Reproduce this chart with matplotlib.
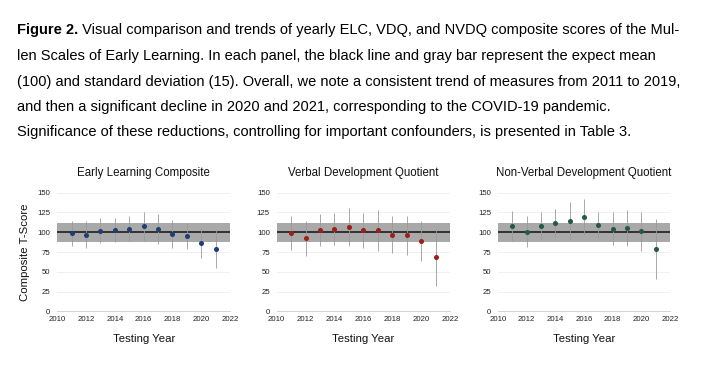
import numpy as np
import matplotlib.pyplot as plt
from matplotlib.text import Annotation

plt.rcParams['font.family'] = ['Liberation Sans', 'DejaVu Sans']

years = [2011, 2012, 2013, 2014, 2015, 2016, 2017, 2018, 2019, 2020, 2021]

# yearly means and standard deviations
elc_mean = [98.6, 97.0, 102.0, 103.0, 104.5, 107.5, 104.5, 97.8, 95.7, 86.4, 78.8]
elc_sd = [15.5, 17.0, 16.0, 15.0, 16.0, 18.0, 19.0, 18.0, 16.5, 18.5, 24.0]

vdq_mean = [99.0, 92.3, 102.8, 104.0, 106.6, 102.4, 102.4, 97.0, 96.0, 89.3, 68.3]
vdq_sd = [21.0, 22.5, 20.5, 20.0, 24.0, 22.5, 26.0, 23.0, 24.5, 25.5, 36.0]

nvdq_mean = [107.9, 100.7, 108.3, 111.7, 114.6, 119.3, 109.6, 104.5, 105.4, 101.0, 79.2]
nvdq_sd = [18.5, 20.0, 17.0, 17.5, 23.5, 22.5, 16.5, 21.0, 23.0, 24.5, 38.0]

titles = ['Early Learning Composite', 'Verbal Development Quotient',
          'Non-Verbal Development Quotient']
colors = ['#1d3f73', '#9e1f1a', '#245a45']
expected_mean = 100
band_lo, band_hi = 88, 112

caption = [
    'Visual comparison and trends of yearly ELC, VDQ, and NVDQ composite scores of the Mul-',
    'len Scales of Early Learning. In each panel, the black line and gray bar represent the expect mean',
    '(100) and standard deviation (15). Overall, we note a consistent trend of measures from 2011 to 2019,',
    'and then a significant decline in 2020 and 2021, corresponding to the COVID-19 pandemic.',
    'Significance of these reductions, controlling for important confounders, is presented in Table 3.',
]

W, H = 706, 386
fig = plt.figure(figsize=(W / 100, H / 100), dpi=100)

# caption
fs = 10.5
x0 = 17 / W
base = [34.3, 60.0, 85.6, 111.0, 136.0]
bold = fig.text(x0, 1 - base[0] / H, 'Figure 2.', fontsize=fs, fontweight='bold',
                va='baseline', ha='left')
ann = Annotation(' ' + caption[0], xy=(1, 0), xycoords=bold, fontsize=fs,
                 va='bottom', ha='left', annotation_clip=False)
fig.add_artist(ann)
for i in range(1, 5):
    fig.text(x0, 1 - base[i] / H, caption[i], fontsize=fs, va='baseline', ha='left')

lefts = [57.3, 276.7, 498]
rights = [230, 450, 670]
y_bottom, y_top = 311.3, 192.7
data = [(elc_mean, elc_sd), (vdq_mean, vdq_sd), (nvdq_mean, nvdq_sd)]

for k in range(3):
    l, r = lefts[k], rights[k]
    ax = fig.add_axes([l / W, 1 - y_bottom / H, (r - l) / W, (y_bottom - y_top) / H])
    m, s = data[k]
    ax.axhspan(band_lo, band_hi, color='#a9a9a9', zorder=1, lw=0)
    ax.axhline(expected_mean, color='#111111', lw=1.1, zorder=2)
    ax.errorbar(years, m, yerr=s, fmt='o', ms=2.6, color=colors[k],
                ecolor='#9a9a9a', elinewidth=0.6, capsize=0, zorder=3)
    ax.set_xlim(2010, 2022)
    ax.set_ylim(0, 150)
    ax.set_xticks(range(2010, 2023, 2))
    ax.set_yticks(range(0, 151, 25))
    ax.yaxis.grid(True, color='#eeeeee', lw=0.6)
    ax.set_axisbelow(True)
    for sp in ['top', 'right', 'left']:
        ax.spines[sp].set_visible(False)
    ax.spines['bottom'].set_color('#cccccc')
    ax.spines['bottom'].set_linewidth(0.6)
    ax.tick_params(length=0, labelsize=5.6, labelcolor='#222222', pad=3.5)
    ax.tick_params(axis='y', pad=5)
    ax.set_title(titles[k], fontsize=8.3, pad=12, color='#111111')
    ax.set_xlabel('Testing Year', fontsize=8.2, labelpad=8, color='#111111')
    if k == 0:
        ax.set_ylabel('Composite T-Score', fontsize=8.2, labelpad=5, color='#111111')

fig.savefig('out.png', dpi=100)
